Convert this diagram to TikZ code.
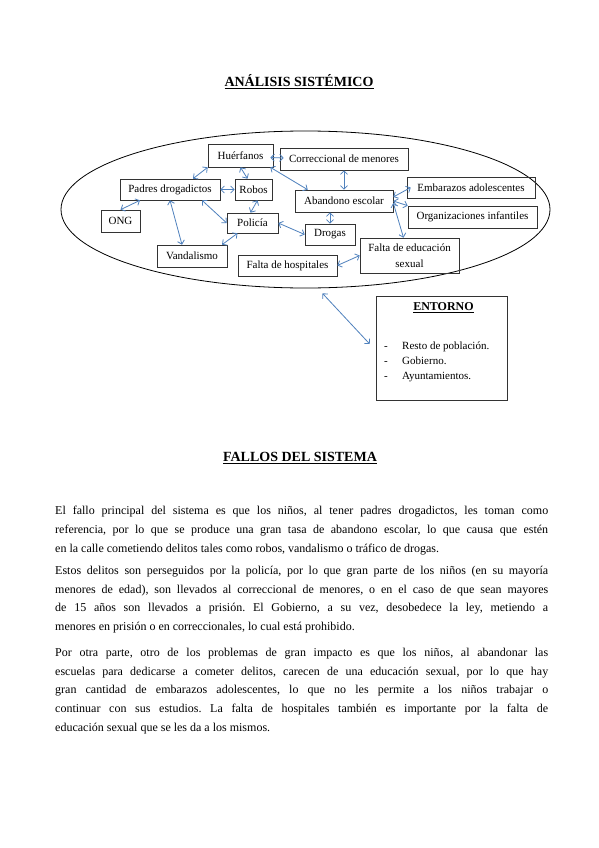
\documentclass[tikz,border=0pt]{standalone}
\usepackage{fontspec}
\setmainfont{Liberation Serif}
\usetikzlibrary{arrows.meta,shapes.geometric}
\definecolor{azul}{RGB}{79,129,189}
\frenchspacing

\begin{document}
\begin{tikzpicture}[x=1pt,y=-1pt,
    caja/.style={draw=black!80,line width=0.6pt,inner sep=1pt,minimum height=21pt,font=\fontsize{11}{13}\selectfont},
    flecha/.style={azul,line width=0.8pt,{Straight Barb[length=3.5pt,width=7pt]}-{Straight Barb[length=3.5pt,width=7pt]}},
    titulo/.style={anchor=base,inner sep=0pt,font=\fontsize{14}{16}\selectfont\bfseries},
    parrafo/.style={anchor=base west,inner sep=0pt,text width=493pt,align=justify,
        font={\fontsize{12}{18.7}\selectfont\hyphenpenalty=10000\tolerance=9999}},
    lista/.style={anchor=base west,inner sep=0pt,font=\fontsize{11}{13}\selectfont}]
\useasboundingbox[fill=white] (0,0) rectangle (599,848);

\node[titulo] (tit1) at (299,86.3) {\underline{ANÁLISIS SISTÉMICO}};
\node[draw,ellipse,line width=0.8pt,inner sep=0pt,minimum width=489pt,minimum height=157pt] (sistema) at (305.5,209.5) {};

\node[caja,minimum width=65pt,minimum height=23pt] (huer) at (240.5,155.5) {Huérfanos};
\node[caja,minimum width=128pt,minimum height=22pt] (corr) at (344,159) {Correccional de menores};
\node[caja,minimum width=100pt] (padres) at (170,189.5) {Padres drogadictos};
\node[caja,minimum width=37pt] (robos) at (253.5,189.5) {Robos};
\node[caja,minimum width=98pt,minimum height=22pt] (aband) at (344,201) {Abandono escolar};
\node[caja,minimum width=128pt] (emb) at (471,187.5) {Embarazos adolescentes};
\node[caja,minimum width=129pt,minimum height=22pt] (org) at (472.5,217) {Organizaciones infantiles};
\node[caja,minimum width=39pt,minimum height=22pt] (ong) at (120.5,221) {ONG};
\node[caja,minimum width=51pt,minimum height=20pt] (poli) at (252.5,223) {Policía};
\node[caja,minimum width=50pt] (drog) at (330,234.5) {Drogas};
\node[caja,minimum width=70pt,minimum height=22pt] (vand) at (192,256) {Vandalismo};
\node[caja,minimum width=99pt] (hosp) at (287.5,265.5) {Falta de hospitales};
\node[caja,minimum width=99pt,minimum height=35pt,align=center,font=\fontsize{11}{16}\selectfont] (educ) at (409.5,255.5) {Falta de educación\\sexual};

\draw[flecha] (huer.south west) -- ([xshift=23pt]padres.north);
\draw[flecha] ([xshift=-3pt,yshift=-2pt]huer.east) -- ([xshift=4pt,yshift=1pt]corr.west);
\draw[flecha] (huer.south) -- ([xshift=-6pt]robos.north);
\draw[flecha] ([xshift=-3pt]huer.south east) -- ([xshift=13pt]aband.north west);
\draw[flecha] (corr.south) -- (aband.north);
\draw[flecha] (padres.east) -- (robos.west);
\draw[flecha] (ong.north) -- ([xshift=-30pt]padres.south);
\draw[flecha] (padres.south) -- ([xshift=-10pt]vand.north);
\draw[flecha] ([xshift=32pt]padres.south) -- (poli.west);
\draw[flecha] ([xshift=4pt]robos.south) -- ([xshift=-2pt]poli.north);
\draw[flecha] ([xshift=-15pt]poli.south) -- ([xshift=30pt]vand.north);
\draw[flecha] (poli.east) -- (drog.west);
\draw[flecha] ([xshift=-14pt]aband.south) -- (drog.north);
\draw[flecha] ([yshift=4pt]aband.east) -- ([xshift=4pt]emb.west);
\draw[flecha] (aband.east) -- (org.north west);
\draw[flecha] ([yshift=-2pt]aband.east) -- ([xshift=-6pt]educ.north);
\draw[flecha] (educ.west) -- (hosp.east);

\node[draw=black!80,line width=0.6pt,minimum width=131pt,minimum height=104pt] (entorno) at (441.5,348) {};
\node[titulo,font=\fontsize{12}{14}\selectfont\bfseries] (entornotit) at (443.5,310.5) {\underline{ENTORNO}};
\foreach \txt [count=\i] in {Resto de población.,Gobierno.,Ayuntamientos.} {
    \node[lista] (guion\i) at (384,334.5+15*\i) {-};
    \node[lista] (item\i) at (402,334.5+15*\i) {\txt};
}
\draw[flecha] ([xshift=17pt,yshift=-5pt]sistema.south) -- ([xshift=-6pt,yshift=4pt]entorno.west);

\node[titulo] (tit2) at (300,461.5) {\underline{FALLOS DEL SISTEMA}};
\node[parrafo] (parr1) at (55,514.7) {El fallo principal del sistema es que los niños, al tener padres drogadictos, les toman como\linebreak referencia, por lo que se produce una gran tasa de abandono escolar, lo que causa que estén\linebreak en la calle cometiendo delitos tales como robos, vandalismo o tráfico de drogas.};
\node[parrafo] (parr2) at (55,574.5) {Estos delitos son perseguidos por la policía, por lo que gran parte de los niños (en su mayoría\linebreak menores de edad), son llevados al correccional de menores, o en el caso de que sean mayores\linebreak de 15 años son llevados a prisión. El Gobierno, a su vez, desobedece la ley, metiendo a\linebreak menores en prisión o en correccionales, lo cual está prohibido.};
\node[parrafo] (parr3) at (55,656.5) {Por otra parte, otro de los problemas de gran impacto es que los niños, al abandonar las\linebreak escuelas para dedicarse a cometer delitos, carecen de una educación sexual, por lo que hay\linebreak gran cantidad de embarazos adolescentes, lo que no les permite a los niños trabajar o\linebreak continuar con sus estudios. La falta de hospitales también es importante por la falta de\linebreak educación sexual que se les da a los mismos.};
\end{tikzpicture}
\end{document}
